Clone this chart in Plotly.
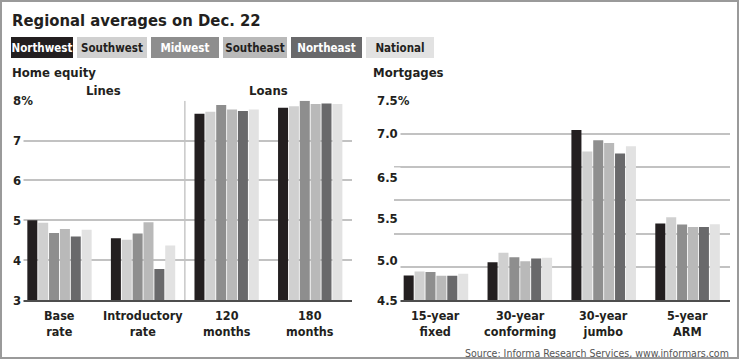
import plotly.graph_objects as go

# ---------------- data ----------------
regions = ["Northwest", "Southwest", "Midwest", "Southeast", "Northeast", "National"]

home_categories = ["Base<br>rate", "Introductory<br>rate", "120<br>months", "180<br>months"]
mort_categories = ["15-year<br>fixed", "30-year<br>conforming", "30-year<br>jumbo", "5-year<br>ARM"]

# Home equity (Lines: base, introductory; Loans: 120 months, 180 months), %
home_northwest = [5.00, 4.55, 7.67, 7.82]
home_southwest = [4.94, 4.51, 7.72, 7.86]
home_midwest   = [4.68, 4.67, 7.89, 8.00]
home_southeast = [4.78, 4.95, 7.78, 7.92]
home_northeast = [4.59, 3.78, 7.74, 7.93]
home_national  = [4.76, 4.37, 7.78, 7.92]

# Mortgages, %
mort_northwest = [4.87, 5.07, 7.06, 5.65]
mort_southwest = [4.93, 5.21, 6.735, 5.745]
mort_midwest   = [4.92, 5.145, 6.905, 5.635]
mort_southeast = [4.865, 5.085, 6.865, 5.60]
mort_northeast = [4.865, 5.125, 6.705, 5.60]
mort_national  = [4.895, 5.135, 6.815, 5.64]

home_ticks = [3, 4, 5, 6, 7, 8]
home_tick_text = ["3", "4", "5", "6", "7", "8%"]
mort_grid = [4.5, 5.0, 5.5, 6.0, 6.5, 7.0, 7.5]
# labels as printed in the reference (spaced independently of the grid)
mort_label_text = ["4.5", "5.0", "5.5", "6.5", "7.0", "7.5%"]
mort_label_at = [4.5, 5.10, 5.73, 6.35, 7.0, 7.5]

home_series = [home_northwest, home_southwest, home_midwest, home_southeast, home_northeast, home_national]
mort_series = [mort_northwest, mort_southwest, mort_midwest, mort_southeast, mort_northeast, mort_national]

# ---------------- styles ----------------
W, H = 740, 363
bar_colors = ["#231f20", "#d0d0d0", "#8e8e8e", "#b9b9b9", "#69696b", "#e2e2e2"]
legend_text_colors = ["white", "#231f20", "white", "#231f20", "white", "#231f20"]
FONT = "DejaVu Sans Condensed, DejaVu Sans, sans-serif"
INK = "#231f20"


def px(x):
    return x / W


def py(y):
    return 1 - y / H


def bfont(size, color=INK):
    return dict(family=FONT, size=size, color=color, weight="bold")


fig = go.Figure()
for i, r in enumerate(regions):
    fig.add_trace(go.Bar(x=home_categories, y=home_series[i], name=r, marker_color=bar_colors[i],
                         marker_line_width=0, xaxis="x", yaxis="y", showlegend=False))
    fig.add_trace(go.Bar(x=mort_categories, y=mort_series[i], name=r, marker_color=bar_colors[i],
                         marker_line_width=0, xaxis="x2", yaxis="y2", showlegend=False))

plot_top, plot_bottom = 100.7, 300

annotations = []

annotations.append(dict(text="Regional averages on Dec. 22", x=px(10), y=py(20), xref="paper", yref="paper",
                        xanchor="left", yanchor="middle", showarrow=False, font=bfont(16.5)))

legend_left = [11, 77, 151, 223, 291, 366]
legend_width = [62, 70, 68, 64, 71, 68]
for i, r in enumerate(regions):
    annotations.append(dict(text=r, x=px(legend_left[i]), y=py(47.5), xref="paper", yref="paper",
                            xanchor="left", yanchor="middle", showarrow=False, width=legend_width[i],
                            height=21, bgcolor=bar_colors[i], borderpad=0, borderwidth=0, align="center",
                            valign="middle", font=bfont(11.5, legend_text_colors[i])))

annotations.append(dict(text="Home equity", x=px(10), y=py(72), xref="paper", yref="paper",
                        xanchor="left", yanchor="middle", showarrow=False, font=bfont(13)))
annotations.append(dict(text="Mortgages", x=px(371), y=py(72), xref="paper", yref="paper",
                        xanchor="left", yanchor="middle", showarrow=False, font=bfont(13)))
annotations.append(dict(text="Lines", x=px(103), y=py(91), xref="paper", yref="paper",
                        xanchor="center", yanchor="middle", showarrow=False, font=bfont(13)))
annotations.append(dict(text="Loans", x=px(268), y=py(91), xref="paper", yref="paper",
                        xanchor="center", yanchor="middle", showarrow=False, font=bfont(13)))

for v, t in zip(home_ticks, home_tick_text):
    annotations.append(dict(text=t, x=px(10), y=v, xref="paper", yref="y", xanchor="left",
                            yanchor="middle", showarrow=False, bgcolor="white", borderpad=2,
                            font=bfont(13)))
for v, t in zip(mort_label_at, mort_label_text):
    annotations.append(dict(text=t, x=px(374), y=v, xref="paper", yref="y2", xanchor="left",
                            yanchor="middle", showarrow=False, bgcolor="white", borderpad=2,
                            font=bfont(13)))

for cats, xr in ((home_categories, "x"), (mort_categories, "x2")):
    for c in cats:
        annotations.append(dict(text=c, x=c, y=py(307), xref=xr, yref="paper", xanchor="center",
                                yanchor="top", showarrow=False, borderpad=0, font=bfont(12.5)))

annotations.append(dict(text="Source: Informa Research Services, www.informars.com", x=px(731), y=py(353),
                        xref="paper", yref="paper", xanchor="right", yanchor="middle", showarrow=False,
                        font=dict(family=FONT, size=10.5, color="#555555")))

shapes = [
    dict(type="line", xref="x", yref="y", x0=1.5, x1=1.5, y0=3, y1=8, layer="below",
         line=dict(color="#c8c8c8", width=1.5)),
    dict(type="rect", xref="paper", yref="paper", x0=px(1), x1=px(738), y0=py(358), y1=py(1),
         line=dict(color="#9a9a9a", width=2), layer="below"),
]

grid = dict(showgrid=True, gridcolor="#c2c2c2", gridwidth=1.5, zeroline=False, showticklabels=False,
            ticks="")
xcommon = dict(showgrid=False, zeroline=False, showticklabels=False, ticks="", showline=True,
               linecolor="#4d4d4d", linewidth=2, range=[-0.5, 3.5], fixedrange=True)

fig.update_layout(
    width=W, height=H, margin=dict(l=0, r=0, t=0, b=0),
    paper_bgcolor="white", plot_bgcolor="white",
    barmode="group", bargap=0.22, bargroupgap=0.08,
    showlegend=False,
    xaxis=dict(xcommon, domain=[px(17.7), px(352)], type="category", anchor="y"),
    yaxis=dict(grid, domain=[py(plot_bottom), py(plot_top)], range=[3, 8], tickvals=home_ticks,
               anchor="x", fixedrange=True),
    xaxis2=dict(xcommon, domain=[px(394), px(729.5)], type="category", anchor="y2"),
    yaxis2=dict(grid, domain=[py(plot_bottom), py(plot_top)], range=[4.5, 7.5], tickvals=mort_grid,
                anchor="x2", fixedrange=True),
    annotations=annotations,
    shapes=shapes,
)

fig.write_html("out.html", config={"displayModeBar": False},
               post_script="document.body.style.margin='0px';")
